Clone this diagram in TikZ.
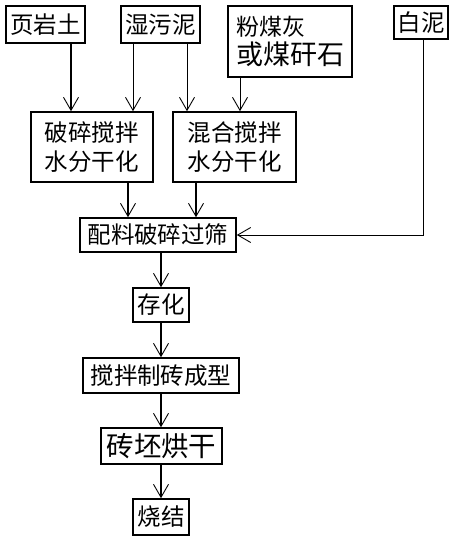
\documentclass[tikz,border=0pt]{standalone}
\usepackage{fontspec}
\newfontfamily\cjk{Noto Sans CJK SC}
\usetikzlibrary{arrows.meta}
\begin{document}
\begin{tikzpicture}[x=1pt,y=-1pt,
  box/.style={draw,line width=1.6pt,inner sep=0pt,font=\cjk\fontsize{23.5}{29}\selectfont,align=center},
  arr/.style={line width=1.3pt,-{Straight Barb[length=13pt,width=15pt,line width=0.9pt]}},
  thinarr/.style={line width=0.8pt,-{Straight Barb[length=13pt,width=15pt,line width=0.9pt]}}]
\useasboundingbox (0,0) rectangle (454,539);
\node[box,minimum width=79pt,minimum height=37pt] (a) at (45.5,24.5) {页岩土};
\node[box,minimum width=79pt,minimum height=37pt] (b) at (160.5,24.5) {湿污泥};
\node[box,minimum width=124pt,minimum height=71pt,align=left] (c) at (290,41.5) {\fontsize{23}{31}\selectfont 粉煤灰\\\fontsize{27}{31}\selectfont 或煤矸石};
\node[box,minimum width=54pt,minimum height=33pt] (d) at (421,22.5) {白泥};
\node[box,minimum width=122pt,minimum height=70pt] (e) at (92,147) {破碎搅拌\\水分干化};
\node[box,minimum width=123pt,minimum height=70pt] (f) at (234.5,147) {混合搅拌\\水分干化};
\node[box,minimum width=156pt,minimum height=34pt] (g) at (158,235) {配料破碎过筛};
\node[box,minimum width=56pt,minimum height=34pt] (h) at (161,305) {存化};
\node[box,minimum width=156pt,minimum height=35pt] (i) at (161,375.5) {搅拌制砖成型};
\node[box,minimum width=121pt,minimum height=36pt,font=\cjk\fontsize{27.5}{29}\selectfont] (j) at (161.5,446) {砖坯烘干};
\node[box,minimum width=56pt,minimum height=36pt] (k) at (161,517) {烧结};
\coordinate (x1) at (71,0);
\coordinate (x2) at (133,0);
\coordinate (x3) at (187,0);
\coordinate (x4) at (240,0);
\coordinate (x5) at (128,0);
\coordinate (x6) at (196,0);
\coordinate (x7) at (161,0);
\coordinate (x8) at (423,0);
\draw[arr] (x1 |- a.south) -- (x1 |- e.north);
\draw[thinarr] (x2 |- b.south) -- (x2 |- e.north);
\draw[thinarr] (x3 |- b.south) -- (x3 |- f.north);
\draw[thinarr] (x4 |- c.south) -- (x4 |- f.north);
\draw[arr] (x5 |- e.south) -- (x5 |- g.north);
\draw[arr] (x6 |- f.south) -- (x6 |- g.north);
\draw[thinarr] (x8 |- d.south) |- (g.east);
\draw[arr] (x7 |- g.south) -- (x7 |- h.north);
\draw[arr] (x7 |- h.south) -- (x7 |- i.north);
\draw[arr] (x7 |- i.south) -- (x7 |- j.north);
\draw[arr] (x7 |- j.south) -- (x7 |- k.north);
\end{tikzpicture}
\end{document}
